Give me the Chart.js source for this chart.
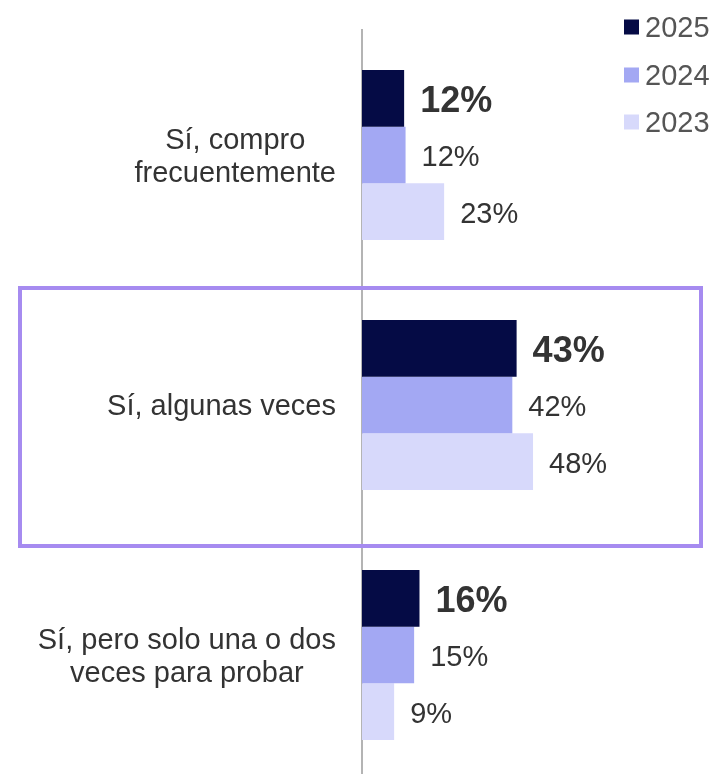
<!DOCTYPE html>
<html><head><meta charset="utf-8">
<style>html,body{margin:0;padding:0;overflow:hidden;background:#fff}#wrap{width:713px;height:780px;position:relative}canvas{display:block}</style>
</head><body>
<div id="wrap"><canvas id="c" width="713" height="780"></canvas></div>
<script src="https://cdn.jsdelivr.net/npm/chart.js@4.4.0/dist/chart.umd.min.js"></script>
<script>
// ---- data ----
const categories = [["Sí, compro", "frecuentemente"], ["Sí, algunas veces"], ["Sí, pero solo una o dos", "veces para probar"]];
const seriesNames = ["2025", "2024", "2023"];
const values2025 = [11.8, 43.3, 16.1];
const values2024 = [12.2, 42.1, 14.6];
const values2023 = [23.0, 47.9, 9.0];
const highlightIndex = 1;

// ---- styles ----
const colors = ["#050b45", "#a3a8f3", "#d7d9fb"];
const FONT = '"Liberation Sans", Arial, sans-serif';
const textColor = "#333333";

const labelPlugin = {
  id: 'customText',
  afterDraw(chart) {
    const ctx = chart.ctx;
    const ys = chart.scales.y;
    const area = chart.chartArea;
    ctx.save();
    // category labels: block right-aligned, lines centered
    ctx.font = '29px ' + FONT;
    ctx.fillStyle = textColor;
    ctx.textAlign = 'center';
    ctx.textBaseline = 'middle';
    const lh = 33;
    categories.forEach((lines, i) => {
      const cy = ys.getPixelForTick(i) + 2;
      const w = Math.max(...lines.map(l => ctx.measureText(l).width));
      const cx = area.left - 26 - w / 2;
      const y0 = cy - (lines.length - 1) * lh / 2;
      lines.forEach((l, k) => ctx.fillText(l, cx, y0 + k * lh));
    });
    // value labels
    ctx.textAlign = 'left';
    chart.data.datasets.forEach((ds, di) => {
      const meta = chart.getDatasetMeta(di);
      ctx.font = (di === 0 ? 'bold 36px ' : '29px ') + FONT;
      ctx.fillStyle = textColor;
      meta.data.forEach((bar, i) => {
        ctx.fillText(Math.round(ds.data[i]) + '%', bar.x + 16, bar.y + (di === 0 ? 4 : 3));
      });
    });
    // legend
    ctx.font = '29px ' + FONT;
    const legendY = [27, 75, 122];
    chart.data.datasets.forEach((ds, di) => {
      ctx.fillStyle = ds.backgroundColor;
      ctx.fillRect(624, legendY[di] - 7.5, 15, 15);
      ctx.fillStyle = '#555555';
      ctx.fillText(ds.label, 645, legendY[di] + 2);
    });
    // highlight box
    const hc = ys.getPixelForTick(highlightIndex);
    ctx.strokeStyle = '#a68bf0';
    ctx.lineWidth = 4;
    ctx.strokeRect(20, hc - 117, 681, 258);
    ctx.restore();
  }
};

new Chart(document.getElementById('c'), {
  type: 'bar',
  data: {
    labels: categories,
    datasets: [
      { label: seriesNames[0], data: values2025, backgroundColor: colors[0] },
      { label: seriesNames[1], data: values2024, backgroundColor: colors[1] },
      { label: seriesNames[2], data: values2023, backgroundColor: colors[2] }
    ]
  },
  options: {
    indexAxis: 'y',
    responsive: false,
    animation: false,
    devicePixelRatio: 1,
    layout: { padding: { top: 30, left: 0, right: 0, bottom: 0 } },
    datasets: { bar: { barPercentage: 1, categoryPercentage: 0.68 } },
    scales: {
      x: { display: false, min: 0, max: 98.3 },
      y: {
        grid: { display: false, drawTicks: false },
        border: { display: true, color: '#b4b4b4', width: 2 },
        ticks: { display: false },
        afterFit(s) { s.width = 362; }
      }
    },
    plugins: { legend: { display: false }, tooltip: { enabled: false } }
  },
  plugins: [labelPlugin]
});
</script>
</body></html>
